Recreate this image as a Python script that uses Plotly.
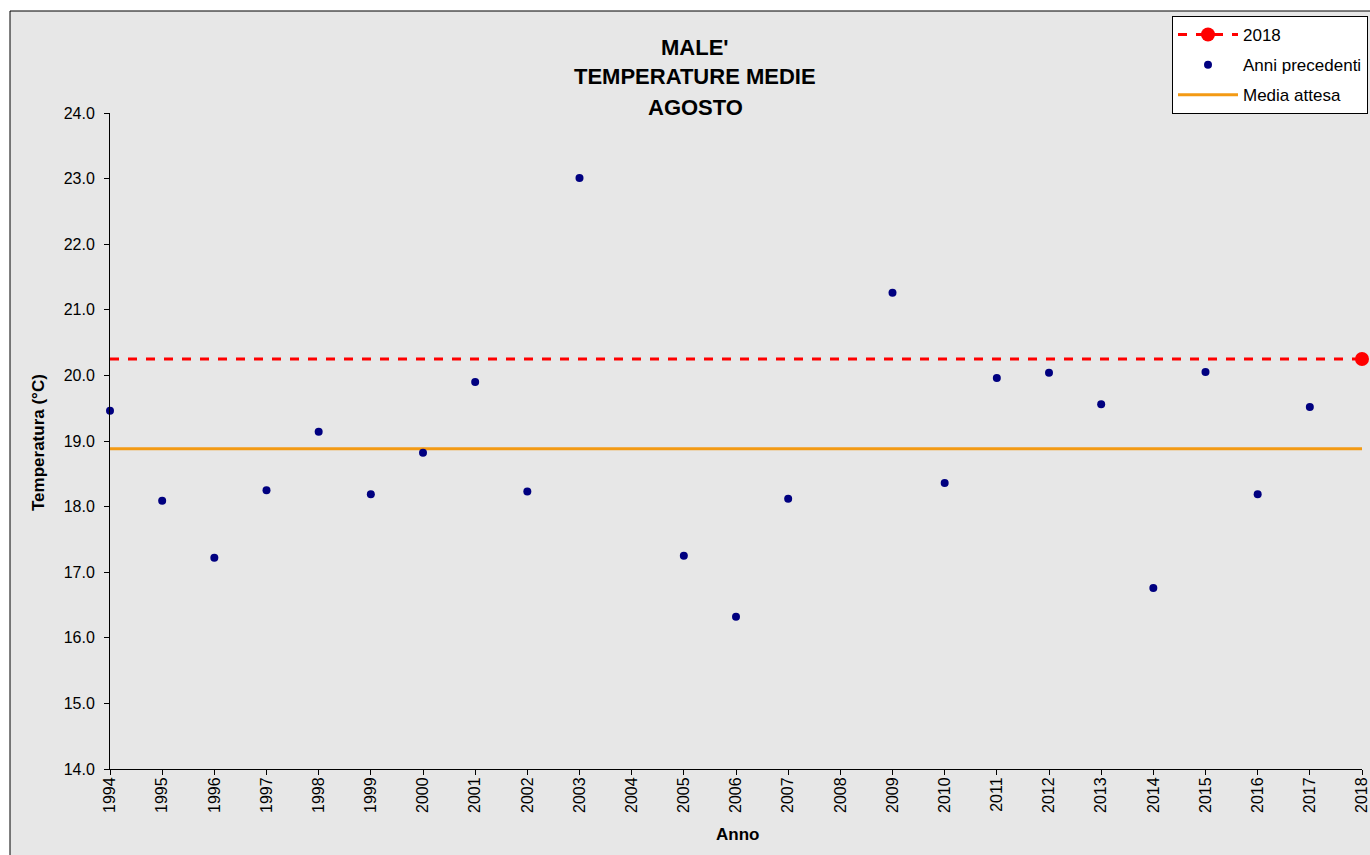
import plotly.graph_objects as go

years = list(range(1994, 2018))
temps = [19.46, 18.09, 17.22, 18.25, 19.14, 18.19, 18.82, 19.90, 18.23, 23.01,
         None, 17.25, 16.32, 18.12, None, 21.26, 18.36, 19.96, 20.04, 19.56,
         16.76, 20.05, 18.19, 19.52]
year_2018 = 2018
temp_2018 = 20.25
media_attesa = 18.88

title_lines = ["MALE'", "TEMPERATURE MEDIE", "AGOSTO"]

W, H = 1370, 855
L, R, T, B = 110, 1362, 113, 769


def px(x):
    return (x - L) / (R - L)


def py(y):
    return (B - y) / (B - T)


FONT = "Liberation Sans, Arial, sans-serif"
NAVY = "#000080"
RED = "#ff0000"
ORANGE = "#f39a14"

fig = go.Figure()

# 2018 dashed line (no legend)
fig.add_trace(go.Scatter(
    x=[years[0], year_2018], y=[temp_2018, temp_2018], mode="lines",
    line=dict(color=RED, width=3, dash="dash"), showlegend=False,
    hoverinfo="skip", cliponaxis=False))
# Media attesa line
fig.add_trace(go.Scatter(
    x=[years[0], year_2018], y=[media_attesa, media_attesa], mode="lines",
    line=dict(color=ORANGE, width=3), name="Media attesa",
    legendgroup="c", legendrank=3, cliponaxis=False))
# Anni precedenti
fig.add_trace(go.Scatter(
    x=years, y=temps, mode="markers",
    marker=dict(color=NAVY, size=8), name="Anni precedenti",
    legendgroup="b", legendrank=2, cliponaxis=False))
# 2018 point
fig.add_trace(go.Scatter(
    x=[year_2018], y=[temp_2018], mode="lines+markers",
    marker=dict(color=RED, size=14),
    line=dict(color=RED, width=3, dash="dash"), name="2018",
    legendgroup="a", legendrank=1, cliponaxis=False))

annotations = []
for i, t in enumerate(title_lines):
    annotations.append(dict(
        x=px(695), y=py(47 + 30 * i), xref="paper", yref="paper",
        text=f"<b>{t}</b>", showarrow=False, xanchor="center", yanchor="middle",
        font=dict(family=FONT, size=22, color="black")))
annotations.append(dict(
    x=px(38), y=py(443), xref="paper", yref="paper", text="<b>Temperatura (°C)</b>",
    textangle=-90, showarrow=False, xanchor="center", yanchor="middle",
    font=dict(family=FONT, size=17, color="black")))
annotations.append(dict(
    x=px(737), y=py(834), xref="paper", yref="paper", text="<b>Anno</b>",
    showarrow=False, xanchor="center", yanchor="middle",
    font=dict(family=FONT, size=17, color="black")))

fig.update_layout(
    width=W, height=H,
    margin=dict(l=L, r=W - R, t=T, b=H - B, autoexpand=False),
    paper_bgcolor="white",
    plot_bgcolor="rgba(0,0,0,0)",
    font=dict(family=FONT, size=15, color="black"),
    showlegend=True,
    legend=dict(
        x=px(1172), y=py(16), xanchor="left", yanchor="top",
        bgcolor="white", bordercolor="black", borderwidth=1,
        font=dict(family=FONT, size=17, color="black"),
        tracegroupgap=5, itemwidth=60, traceorder="grouped"),
    annotations=annotations,
    shapes=[dict(type="rect", xref="paper", yref="paper",
                 x0=px(10), x1=px(1380), y0=py(870), y1=py(11),
                 fillcolor="#e7e7e7", line=dict(color="black", width=1),
                 layer="below")],
    xaxis=dict(range=[1994, 2018], dtick=1, tick0=1994, tickangle=-90,
               ticks="outside", ticklen=5, tickcolor="black",
               showline=True, linecolor="black", linewidth=1,
               showgrid=False, zeroline=False, ticklabelstandoff=-4,
               ticklabeloverflow="allow",
               tickfont=dict(family=FONT, size=16)),
    yaxis=dict(range=[14, 24], dtick=1, tick0=14, tickformat=".1f",
               ticks="outside", ticklen=5, tickcolor="black",
               showline=True, linecolor="black", linewidth=1,
               showgrid=False, zeroline=False, ticklabelstandoff=6,
               ticklabeloverflow="allow",
               tickfont=dict(family=FONT, size=16)),
)

fig.write_html("out.html", config={"displayModeBar": False},
               post_script="document.body.style.margin='0';document.body.style.overflow='hidden';")
